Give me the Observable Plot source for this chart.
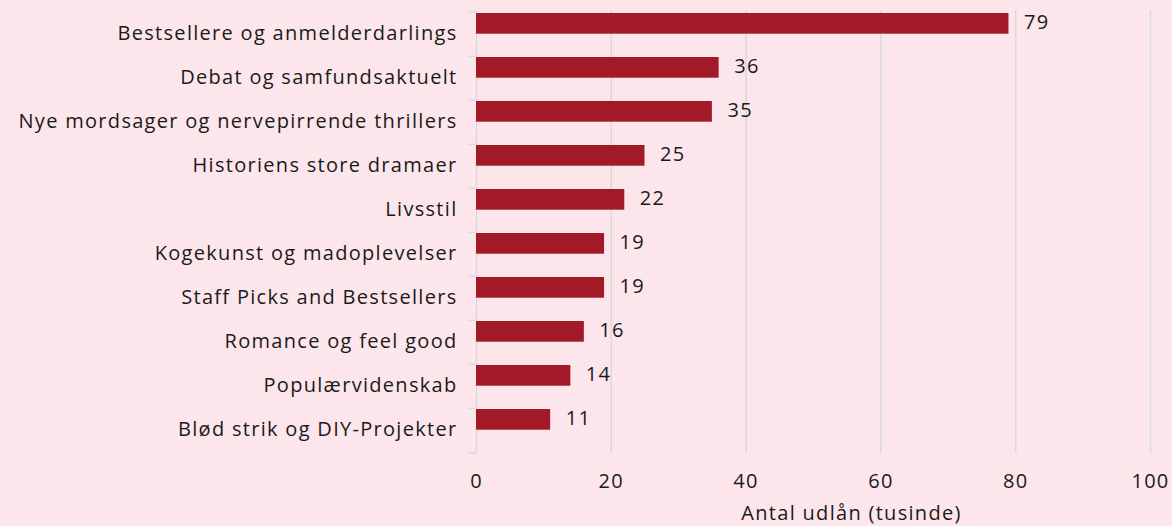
<!DOCTYPE html>
<html>
<head>
<meta charset="utf-8">
<script src="https://cdn.jsdelivr.net/npm/d3@7"></script>
<script src="https://cdn.jsdelivr.net/npm/@observablehq/plot@0.6"></script>
<style>
  html, body { margin: 0; padding: 0; background: #fde6eb; }
  #chart svg { display: block; }
  #chart svg text { letter-spacing: 1.3px; }
</style>
</head>
<body>
<div id="chart"></div>
<script>
const categories = [
  "Bestsellere og anmelderdarlings",
  "Debat og samfundsaktuelt",
  "Nye mordsager og nervepirrende thrillers",
  "Historiens store dramaer",
  "Livsstil",
  "Kogekunst og madoplevelser",
  "Staff Picks and Bestsellers",
  "Romance og feel good",
  "Populærvidenskab",
  "Blød strik og DIY-Projekter"
];
const values = [79, 36, 35, 25, 22, 19, 19, 16, 14, 11];
const xTicks = [0, 20, 40, 60, 80, 100];
const xTitle = "Antal udlån (tusinde)";

const data = categories.map((c, i) => ({category: c, value: values[i]}));

const W = 1172, H = 526;
const mL = 476, mR = 22, mT = 10, mB = 73;
const bw = (H - mT - mB) / categories.length;
const barTop = 1, barH = 21;
const grid = "#d9d9d9";
const font = "'Open Sans', sans-serif";
const fs = 20;

const chart = Plot.plot({
  width: W,
  height: H,
  marginLeft: mL,
  marginRight: mR,
  marginTop: mT,
  marginBottom: mB,
  style: {background: "#fde6eb", fontFamily: font, fontSize: fs + "px", color: "#1a1a1a"},
  x: {domain: [0, 100], ticks: xTicks},
  y: {domain: categories, padding: 0},
  marks: [
    Plot.gridX(xTicks.slice(1), {stroke: grid, strokeOpacity: 1, strokeWidth: 1.5}),
    Plot.ruleX([0], {stroke: grid, strokeWidth: 1.5}),
    Plot.axisY({tickSize: 7, stroke: grid, strokeWidth: 1.5, tickFormat: () => "", dy: -bw / 2, tickPadding: 0, label: null}),
    Plot.axisY([categories[categories.length - 1]], {tickSize: 7, stroke: grid, strokeWidth: 1.5, tickFormat: () => "", dy: bw / 2, tickPadding: 0, label: null}),
    Plot.axisY({tickSize: 0, tickPadding: 19, dy: -1, fontSize: fs, fill: "#1a1a1a", label: null}),
    Plot.axisX(xTicks, {tickSize: 0, tickPadding: 20, fontSize: fs, fill: "#1a1a1a", label: null}),
    Plot.barX(data, {
      y: "category", x: "value", fill: "#a21a28",
      insetTop: barTop, insetBottom: bw - barTop - barH
    }),
    Plot.text(data, {
      y: "category", x: "value", text: d => String(d.value),
      textAnchor: "start", dx: 15, dy: -bw / 2 + barTop + barH / 2 - 1,
      fontSize: fs, fill: "#1a1a1a"
    }),
    Plot.text([xTitle], {
      frameAnchor: "bottom", dx: 38, dy: 66, text: d => d,
      fontSize: fs, fill: "#1a1a1a"
    })
  ]
});
document.getElementById("chart").append(chart);
</script>
</body>
</html>
